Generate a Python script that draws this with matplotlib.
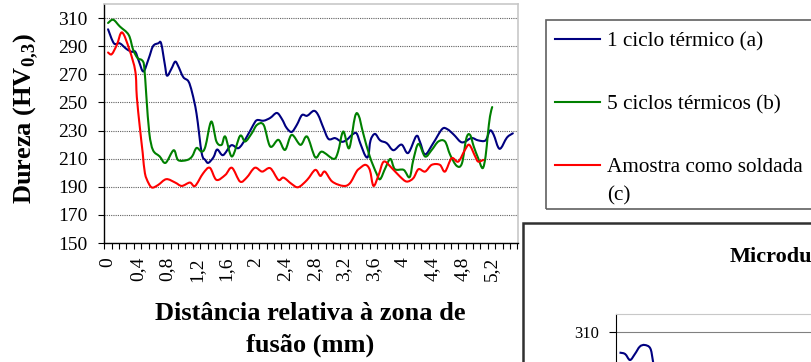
import numpy as np
import matplotlib
matplotlib.use("Agg")
import matplotlib.pyplot as plt
from matplotlib.patches import Rectangle, PathPatch
from matplotlib.path import Path
from matplotlib.lines import Line2D

plt.rcParams['font.family'] = ['Liberation Serif', 'DejaVu Serif']
plt.rcParams['mathtext.fontset'] = 'custom'
plt.rcParams['mathtext.rm'] = 'Liberation Serif'
plt.rcParams['mathtext.bf'] = 'Liberation Serif:bold'

# ---------------- data ----------------
blue_x = [0.00, 0.08, 0.16, 0.25, 0.32, 0.37, 0.42, 0.48, 0.55, 0.61, 0.68, 0.72, 0.77, 0.80,
          0.86, 0.91, 0.95, 1.02, 1.09, 1.14, 1.20, 1.27, 1.32, 1.36, 1.43, 1.48, 1.56, 1.67,
          1.77, 1.87, 1.97, 2.02, 2.11, 2.20, 2.29, 2.36, 2.42, 2.49, 2.56, 2.63, 2.70, 2.79,
          2.85, 2.92, 2.99, 3.08, 3.17, 3.24, 3.31, 3.37, 3.42, 3.49, 3.53, 3.56, 3.62, 3.69,
          3.78, 3.87, 3.98, 4.07, 4.18, 4.23, 4.30, 4.41, 4.53, 4.60, 4.69, 4.78, 4.84, 4.93,
          5.02, 5.12, 5.18, 5.23, 5.31, 5.41, 5.49]
blue_y = [302, 292, 292, 288, 286, 286, 279, 272, 281, 290, 292, 292, 277, 269,
          274, 279, 276, 268, 265, 257, 242, 214, 209, 207, 211, 216.5, 212.5, 219.5,
          217.5, 224.5, 234, 237.4, 237, 239, 242.5, 238, 232, 229, 234, 241, 240.5, 244,
          241, 232, 224, 224.6, 222, 223.5, 227, 228, 221, 212, 212, 223, 227.6, 223,
          221, 216, 220, 214, 226, 222, 213, 221, 231, 231, 227, 222, 222, 224.7,
          223, 223, 230, 227, 217, 225, 228]

green_x = [0.00, 0.07, 0.16, 0.28, 0.34, 0.40, 0.46, 0.49, 0.52, 0.56, 0.61, 0.70, 0.78, 0.89,
           0.95, 1.07, 1.14, 1.20, 1.27, 1.32, 1.40, 1.47, 1.54, 1.59, 1.68, 1.79, 1.86, 1.95,
           2.02, 2.11, 2.20, 2.31, 2.40, 2.49, 2.61, 2.70, 2.81, 2.90, 3.06, 3.12, 3.19, 3.27,
           3.35, 3.40, 3.46, 3.55, 3.64, 3.69, 3.76, 3.83, 3.89, 4.01, 4.09, 4.14, 4.21, 4.30,
           4.39, 4.48, 4.57, 4.64, 4.73, 4.80, 4.86, 4.91, 4.96, 5.02, 5.08, 5.12, 5.15, 5.18, 5.21]
green_y = [306.5, 308.8, 304, 298, 287.5, 281.6, 280, 275.6, 254, 228, 216, 211.6, 207, 216,
           209, 209, 211.6, 217.6, 215, 218.6, 236.4, 222.2, 219.8, 225.7, 211.5, 226.2, 222.2, 228.1,
           234, 234, 218.6, 223.4, 216.2, 226.9, 219.8, 225.7, 211, 215, 209.8, 215, 229.3, 217.4,
           240, 240.5, 228.1, 211.5, 199.6, 195.4, 203.2, 209.8, 202.5, 202, 196.8, 209.1, 220.5, 211.5,
           216.2, 222.2, 222.2, 212.7, 204.8, 206.7, 224.6, 226.9, 218.6, 210.3, 203.2, 211.5, 226.9, 240, 246.7]

red_x = [0.00, 0.05, 0.12, 0.19, 0.29, 0.37, 0.39, 0.43, 0.47, 0.50, 0.55, 0.60, 0.68, 0.79,
         0.91, 1.00, 1.11, 1.18, 1.29, 1.38, 1.47, 1.59, 1.68, 1.79, 1.88, 1.99, 2.09, 2.20,
         2.31, 2.38, 2.49, 2.58, 2.70, 2.81, 2.88, 2.94, 3.04, 3.19, 3.28, 3.37, 3.41, 3.49,
         3.55, 3.60, 3.67, 3.74, 3.85, 3.96, 4.05, 4.14, 4.21, 4.30, 4.39, 4.50, 4.57, 4.66,
         4.75, 4.84, 4.90, 4.98, 5.02, 5.09]
red_y = [285.5, 284.3, 291, 299.8, 287.5, 272, 254, 232.8, 214, 199.6, 192.5, 189.4, 191.3, 195.4,
         193, 190.6, 193, 190.6, 199.6, 203.5, 194.9, 198.4, 203.5, 193.7, 196.5, 203.5, 200.8, 203.2,
         194.9, 196.5, 192, 189.7, 194.9, 202, 197.7, 200.8, 193.7, 190.6, 192.5, 200.8, 203, 205.6,
         202, 190.6, 198.4, 207.9, 203.2, 197.2, 193.7, 196.1, 202.5, 200.8, 205.6, 205.6, 200.8, 210.3,
         207.9, 216.2, 219.8, 211.5, 207.9, 209.1]

series_labels = ["1 ciclo térmico (a)", "5 ciclos térmicos (b)", "Amostra como soldada"]
series_colors = ["#000080", "#008000", "#FF0000"]

yticks = [150, 170, 190, 210, 230, 250, 270, 290, 310]
xlabel_vals = [0, 0.4, 0.8, 1.2, 1.6, 2, 2.4, 2.8, 3.2, 3.6, 4, 4.4, 4.8, 5.2]
xlabel_txt = ["0", "0,4", "0,8", "1,2", "1,6", "2", "2,4", "2,8", "3,2", "3,6", "4", "4,4", "4,8", "5,2"]

inset_x = [0.00, 0.08, 0.15, 0.22, 0.29, 0.36, 0.44, 0.48, 0.55]
inset_y = [299.7, 299, 296, 299, 302.7, 303.5, 301.8, 295, 280]


def smooth_path(xs, ys):
    """Smoothed line through every data point (cubic Bezier, Catmull-Rom tangents)."""
    p = np.column_stack([xs, ys]).astype(float)
    n = len(p)
    verts = [p[0]]
    codes = [Path.MOVETO]
    for i in range(n - 1):
        p0 = p[i - 1] if i > 0 else p[i]
        p1 = p[i]
        p2 = p[i + 1]
        p3 = p[i + 2] if i + 2 < n else p[i + 1]
        c1 = p1 + (p2 - p0) / 6.0
        c2 = p2 - (p3 - p1) / 6.0
        verts += [c1, c2, p2]
        codes += [Path.CURVE4] * 3
    return Path(verts, codes)


# ---------------- figure ----------------
W, H = 811, 362
fig = plt.figure(figsize=(W / 100, H / 100), dpi=100)


def fx(px):
    return px / W


def fy(py):
    return 1 - py / H


ax = fig.add_axes([fx(104), fy(243), fx(518) - fx(104), fy(4) - fy(243)])
for xs, ys, c in zip([blue_x, green_x, red_x], [blue_y, green_y, red_y], series_colors):
    ax.add_patch(PathPatch(smooth_path(xs, ys), fill=False, edgecolor=c, lw=1.5,
                           joinstyle='round', capstyle='round', zorder=3))

ax.set_xlim(-0.055, 5.56)
ax.set_ylim(150, 320)
ax.set_yticks(yticks)
ax.set_yticklabels([str(v) for v in yticks])
ax.yaxis.grid(True, linestyle=(0, (1, 1)), color='#606060', lw=0.8)
ax.set_axisbelow(True)

bounds = np.arange(57) * 0.1 - 0.05
ax.set_xticks(bounds, labels=[''] * len(bounds))
ax.set_xticks(xlabel_vals, labels=xlabel_txt, minor=True)
ax.tick_params(axis='x', which='major', length=4, width=0.8, direction='out')
ax.tick_params(axis='x', which='minor', length=0, pad=10, labelsize=14, labelrotation=90)
ax.tick_params(axis='y', length=4, width=0.8, direction='out', pad=8, labelsize=14)

for s in ['top', 'right']:
    ax.spines[s].set_color('#c8c8c8')
    ax.spines[s].set_linewidth(1.2)
for s in ['left', 'bottom']:
    ax.spines[s].set_color('black')
    ax.spines[s].set_linewidth(1.0)

ax.set_ylabel(r'Dureza (HV$_{\mathbf{0{,}3}}$)', fontsize=19, fontweight='bold')
ax.yaxis.label.set_va('center')
ax.yaxis.set_label_coords((26 - 104) / 414, (243 - 119) / 239)
ax.set_xlabel("Distância relativa à zona de\nfusão (mm)", fontsize=19, fontweight='bold', linespacing=1.45)
ax.xaxis.label.set_va('center')
ax.xaxis.set_label_coords((310 - 104) / 414, (243 - 329.5) / 239)

# legend
fig.add_artist(Rectangle((fx(546), fy(209)), fx(830) - fx(546), fy(20) - fy(209),
                         transform=fig.transFigure, fill=False, edgecolor='#606060', lw=1.2))
handles = [Line2D([], [], color=c, lw=1.5) for c in series_colors]
leg = ax.legend(handles, series_labels, loc='upper left', bbox_to_anchor=(fx(555), fy(32)),
                bbox_transform=fig.transFigure,
                frameon=False, fontsize=15.3, borderpad=0, borderaxespad=0,
                handlelength=2.1, handletextpad=0.33, labelspacing=2.02)
fig.text(fx(607), fy(196), "(c)", fontsize=15.3, ha='left', va='center')

# second chart (partially visible)
fig.add_artist(Rectangle((fx(523), fy(380)), fx(900) - fx(523), fy(223) - fy(380),
                         transform=fig.transFigure, fill=False, edgecolor='#303030', lw=1.8))
fig.text(fx(730), fy(257), "Microdu", fontsize=16, fontweight='bold', ha='left', va='center')
ax2 = fig.add_axes([fx(616), fy(600), fx(1000) - fx(616), fy(314) - fy(600)])
ax2.add_patch(PathPatch(smooth_path(inset_x, inset_y), fill=False, edgecolor="#000080", lw=1.5))
ax2.set_xlim(-0.05, (1000 - 616) / 70 - 0.05)
ax2.set_ylim(176, 319)
ax2.set_yticks([310])
ax2.set_yticklabels(["310"])
ax2.set_xticks([])
ax2.yaxis.grid(True, color='#808080', lw=0.8)
ax2.tick_params(axis='y', length=5, width=0.8, pad=7, labelsize=12)
ax2.spines['top'].set_color('#c8c8c8')
ax2.spines['left'].set_color('black')

fig.savefig("out.png", dpi=100)
